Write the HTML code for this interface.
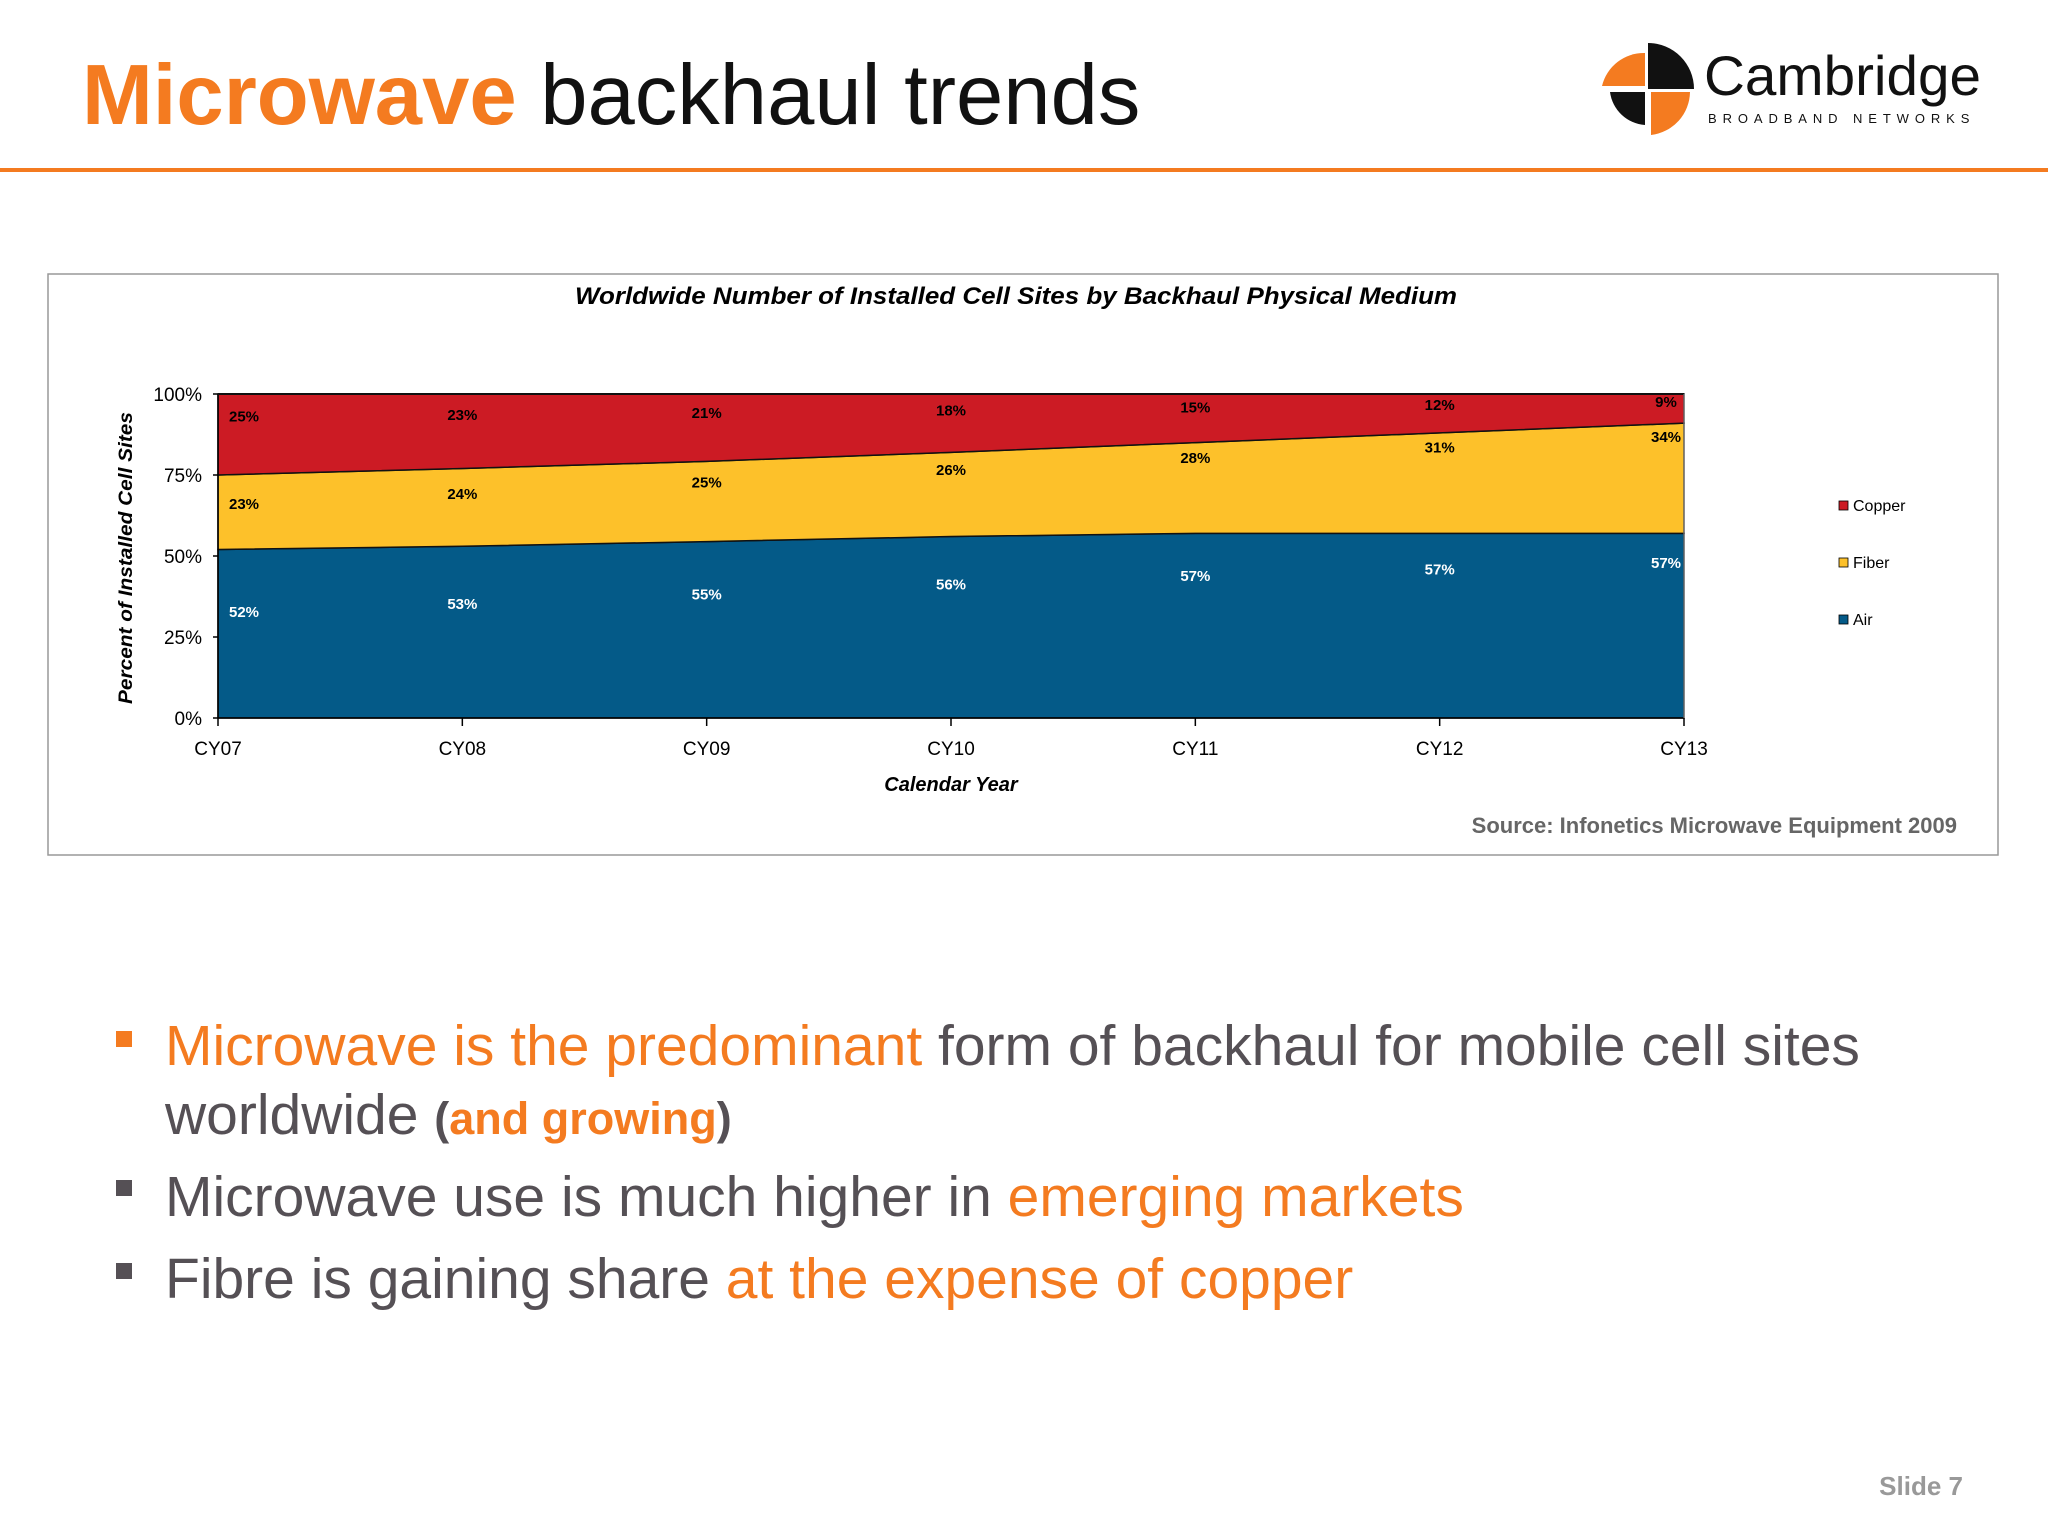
<!DOCTYPE html>
<html><head><meta charset="utf-8">
<style>
body{margin:0;background:#fff;}
#root{position:relative;width:2048px;height:1536px;overflow:hidden;background:#fff;font-family:"Liberation Sans",sans-serif;}
</style></head>
<body>
<div id="root">
<svg width="2048" height="1536" viewBox="0 0 2048 1536" xmlns="http://www.w3.org/2000/svg" font-family="Liberation Sans, sans-serif">
  <g>
    <text x="82" y="124" font-size="85" font-weight="bold" fill="#F47B20">Microwave <tspan fill="#111" font-weight="normal">backhaul trends</tspan></text>
  </g>
  <g>
    <path d="M1648 89 L1648 43 A46 46 0 0 1 1694 89 Z" fill="#111"/>
    <path d="M1645 86 L1602 86 A43 43 0 0 1 1645 53 Z" fill="#F47B20"/>
    <path d="M1645 92 L1645 125 A38 38 0 0 1 1610 92 Z" fill="#111"/>
    <path d="M1651 92 L1690 92 A44 44 0 0 1 1651 135 Z" fill="#F47B20"/>
    <text x="1704" y="95" font-size="56" fill="#111" textLength="277" lengthAdjust="spacingAndGlyphs">Cambridge</text>
    <text x="1708" y="123" font-size="13" fill="#111" letter-spacing="5.9">BROADBAND NETWORKS</text>
  </g>
  <rect x="0" y="168" width="2048" height="4" fill="#F47B20"/>
  <rect x="48" y="274" width="1950" height="581" fill="#fff" stroke="#999" stroke-width="1.5"/>
  <text x="575" y="304" font-size="24" font-weight="bold" font-style="italic" fill="#000" textLength="882" lengthAdjust="spacingAndGlyphs">Worldwide Number of Installed Cell Sites by Backhaul Physical Medium</text>
  <g id="chart"></g>
  <text transform="translate(132,704) rotate(-90)" font-size="19" font-weight="bold" font-style="italic" textLength="292" lengthAdjust="spacingAndGlyphs">Percent of Installed Cell Sites</text>
  <text x="951" y="791" font-size="20" font-weight="bold" font-style="italic" text-anchor="middle">Calendar Year</text>
  <g font-size="16">
    <g><rect x="1839" y="501" width="9" height="9" fill="#CC1B24" stroke="#000" stroke-width="0.8"/><text x="1853" y="511">Copper</text></g>
    <g><rect x="1839" y="558" width="9" height="9" fill="#FDC12A" stroke="#000" stroke-width="0.8"/><text x="1853" y="568">Fiber</text></g>
    <g><rect x="1839" y="615" width="9" height="9" fill="#045A88" stroke="#000" stroke-width="0.8"/><text x="1853" y="625">Air</text></g>
  </g>
  <text x="1957" y="833" font-size="22" font-weight="bold" fill="#666" text-anchor="end">Source: Infonetics Microwave Equipment 2009</text>
  <g font-size="57" fill="#555055">
    <rect x="116" y="1031" width="16" height="16" fill="#F47B20"/>
    <text x="165" y="1065"><tspan fill="#F47B20">Microwave is the predominant</tspan> form of backhaul for mobile cell sites</text>
    <text x="165" y="1134">worldwide <tspan font-size="45" font-weight="bold">(<tspan fill="#F47B20">and growing</tspan>)</tspan></text>
    <rect x="116" y="1180" width="16" height="16" fill="#555055"/>
    <text x="165" y="1216">Microwave use is much higher in <tspan fill="#F47B20">emerging markets</tspan></text>
    <rect x="116" y="1263" width="16" height="16" fill="#555055"/>
    <text x="165" y="1298">Fibre is gaining share <tspan fill="#F47B20">at the expense of copper</tspan></text>
  </g>
  <text x="1963" y="1495" font-size="26" font-weight="bold" fill="#999" text-anchor="end">Slide 7</text>
</svg>
</div>
<script>
const categories = ["CY07","CY08","CY09","CY10","CY11","CY12","CY13"];
const airValues = [52,53,55,56,57,57,57];
const fiberValues = [23,24,25,26,28,31,34];
const copperValues = [25,23,21,18,15,12,9];
const yTicks = [0,25,50,75,100];

const NS = "http://www.w3.org/2000/svg";
const g = document.getElementById('chart');
const X0 = 218, X1 = 1684, Y0 = 718, Y1 = 394;
const xs = i => X0 + (X1 - X0) * i / (categories.length - 1);
const ys = v => Y0 - (Y0 - Y1) * v / 100;
function mk(tag, attrs){const e=document.createElementNS(NS,tag);for(const k in attrs)e.setAttribute(k,attrs[k]);g.appendChild(e);return e;}

const totals = categories.map((c,i)=>airValues[i]+fiberValues[i]+copperValues[i]);
const series = [
  {name:'air', vals:airValues, color:'#045A88', text:'#fff'},
  {name:'fiber', vals:fiberValues, color:'#FDC12A', text:'#000'},
  {name:'copper', vals:copperValues, color:'#CC1B24', text:'#000'}
];
let lower = categories.map(()=>0);
series.forEach(s=>{
  const upper = lower.map((l,i)=>l + s.vals[i]*100/totals[i]);
  let d = 'M' + categories.map((c,i)=>xs(i)+','+ys(upper[i])).join(' L');
  for(let i=categories.length-1;i>=0;i--) d += ' L'+xs(i)+','+ys(lower[i]);
  d += ' Z';
  const p = mk('path',{d:d, fill:s.color, stroke:'#111', 'stroke-width':1.5});
  
  
  s.lower = lower; s.upper = upper;
  lower = upper;
});
series.forEach(s=>{
  s.vals.forEach((v,i)=>{
    let yv;
    if(s.name==='air') yv = s.upper[i]*(0.63 + i*0.035);
    else if(s.name==='fiber') yv = (s.lower[i]+s.upper[i])/2 + 2.5 + i*1.7;
    else yv = 100 - v*0.28;
    let x = xs(i);
    if(i===0) x += 26; else if(i===categories.length-1) x -= 18;
    const t = mk('text',{x:x, y:ys(yv)+5, 'font-size':15, 'font-weight':'bold', fill:s.text, 'text-anchor':'middle'});
    t.textContent = v + '%';
    
    
  });
});
const ax = mk('line',{x1:X0,y1:Y1,x2:X0,y2:Y0,stroke:'#000','stroke-width':1.5});


const bx = mk('line',{x1:X0,y1:Y0,x2:X1,y2:Y0,stroke:'#000','stroke-width':1.5});


mk('line',{x1:X0,y1:Y1,x2:X1,y2:Y1,stroke:'#111','stroke-width':2});
mk('line',{x1:X1,y1:Y1,x2:X1,y2:Y0,stroke:'#888','stroke-width':1});
yTicks.forEach(v=>{
  mk('line',{x1:X0-5,y1:ys(v),x2:X0,y2:ys(v),stroke:'#000','stroke-width':1.5});
  const t = mk('text',{x:202,y:ys(v)+7,'font-size':19,'text-anchor':'end',fill:'#000'});
  t.textContent = v + '%';
  
  
});
categories.forEach((c,i)=>{
  mk('line',{x1:xs(i),y1:Y0,x2:xs(i),y2:Y0+8,stroke:'#000','stroke-width':1.5});
  const t = mk('text',{x:xs(i),y:755,'font-size':19,'text-anchor':'middle',fill:'#000'});
  t.textContent = c;
  
  
});
</script>
</body></html>
